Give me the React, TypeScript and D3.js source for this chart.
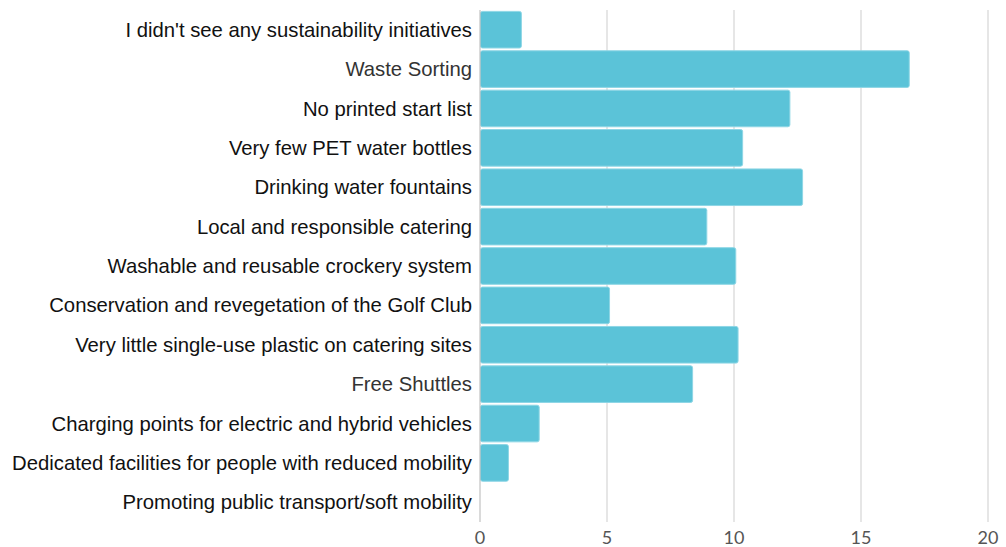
import React from "react";
import * as d3 from "d3";

const categories = [
  "I didn't see any sustainability initiatives",
  "Waste Sorting",
  "No printed start list",
  "Very few PET water bottles",
  "Drinking water fountains",
  "Local and responsible catering",
  "Washable and reusable crockery system",
  "Conservation and revegetation of the Golf Club",
  "Very little single-use plastic on catering sites",
  "Free Shuttles",
  "Charging points for electric and hybrid vehicles",
  "Dedicated facilities for people with reduced mobility",
  "Promoting public transport/soft mobility",
];
const values = [1.63, 16.9, 12.2, 10.34, 12.7, 8.93, 10.07, 5.1, 10.16, 8.37, 2.33, 1.12, 0];
const xTicks = [0, 5, 10, 15, 20];

const W = 1006;
const H = 547;
const M = { left: 480, right: 18, top: 10, bottom: 25 };

export default function App() {
  const x = d3.scaleLinear().domain([0, 20]).range([M.left, W - M.right]);
  const y = d3
    .scaleBand<string>()
    .domain(categories)
    .range([M.top, H - M.bottom])
    .paddingInner(0.07)
    .paddingOuter(0.035);
  const bottom = H - M.bottom;
  return (
    <svg
      width={W}
      height={H}
      style={{ position: "absolute", left: 0, top: 0, background: "#fff" }}
      fontFamily="Liberation Sans, Arial, sans-serif"
    >
      {xTicks.map((t) =>
        t === 0 ? null : (
          <line key={t} x1={x(t)} x2={x(t)} y1={M.top} y2={bottom} stroke="#e6e6e6" strokeWidth={2} />
        )
      )}
      {categories.map((c, i) => {
        const w = x(values[i]) - x(0);
        return w > 0 ? (
          <rect
            key={c}
            x={x(0) + 0.5}
            y={y(c)!}
            width={w - 0.5}
            height={y.bandwidth()}
            rx={2}
            fill="#5bc3d8"
            stroke="#8ed6e5"
            strokeWidth={1}
          />
        ) : null;
      })}
      <line x1={x(0)} x2={x(0)} y1={M.top} y2={bottom} stroke="#b5b5b5" strokeWidth={1} />
      {categories.map((c) => (
        <text
          key={c}
          x={x(0) - 8}
          y={y(c)! + y.bandwidth() / 2}
          dy="0.35em"
          textAnchor="end"
          fontSize={20.3}
          fill={c === "Waste Sorting" || c === "Free Shuttles" ? "#333" : "#111"}
        >
          {c}
        </text>
      ))}
      {xTicks.map((t) => (
        <text
          key={t}
          x={x(t)}
          y={bottom + 22}
          textAnchor="middle"
          fontSize={18}
          fill="#555"
          fontFamily="Lato, sans-serif"
        >
          {t}
        </text>
      ))}
    </svg>
  );
}
